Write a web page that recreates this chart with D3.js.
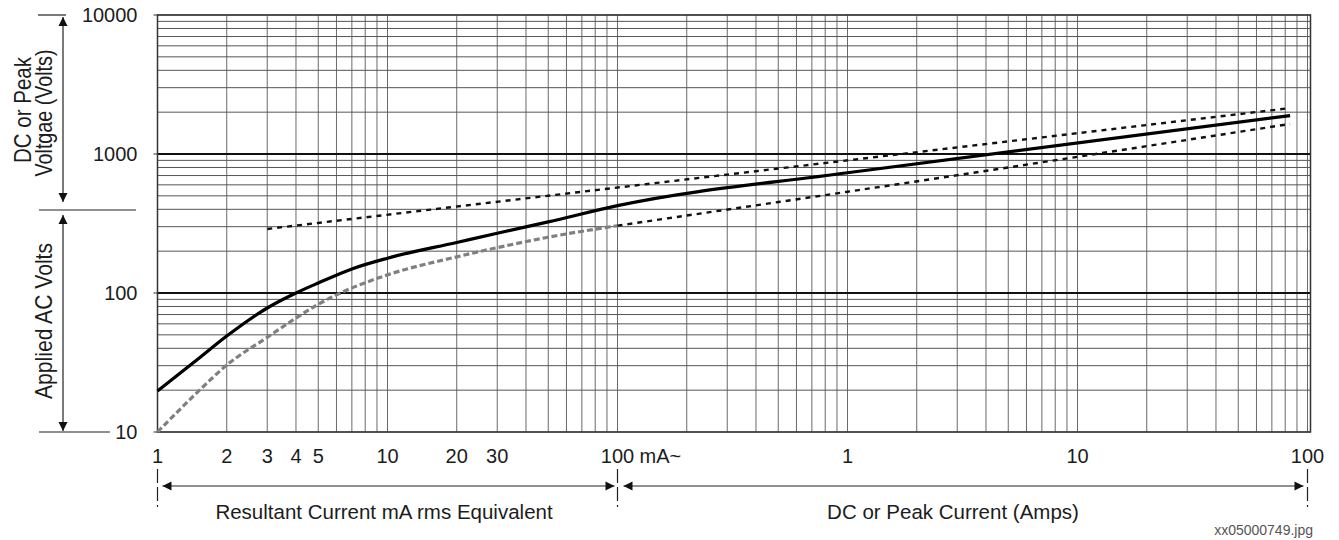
<!DOCTYPE html>
<html>
<head>
<meta charset="utf-8">
<script src="https://d3js.org/d3.v7.min.js"></script>
<style>
    body { margin: 0; background: #fff; }
    text { font-family: "Liberation Sans", Arial, sans-serif; fill: #1c1c1c; }
</style>
</head>
<body>
<script>
// current is kept in mA throughout, voltage in volts
var solidCurrent = [1, 1.5, 2, 3, 4, 5, 7, 10, 20, 30, 50, 100, 1000, 84000];
var solidVolts   = [19.7, 33.5, 49, 78, 100, 118, 149, 178, 231, 269, 325, 425, 733, 1890];

// lower limit, AC part (grey dashes) then DC part (black dashes)
var lowAcCurrent = [1, 1.5, 2, 3, 4, 5, 6, 10, 20, 30, 50, 100];
var lowAcVolts   = [10, 19.5, 30.3, 48, 66, 83, 97, 135, 182, 212, 252, 305];
var lowDcCurrent = [100, 1000, 84000];
var lowDcVolts   = [305, 535, 1645];

// upper limit
var highCurrent = [3, 84000];
var highVolts   = [289, 2140];

var xTicks      = [1, 2, 3, 4, 5, 10, 20, 30, 100, 1000, 10000, 100000];
var xTickLabels = ["1", "2", "3", "4", "5", "10", "20", "30", "100", "1", "10", "100"];
var yTicks      = [10, 100, 1000, 10000];
var yTickLabels = ["10", "100", "1000", "10000"];

var width = 1339, height = 540;
var plotLeft = 157.5, plotRight = 1307.5, plotTop = 15, plotBottom = 432;

var svg = d3.select("body").append("svg")
    .attr("width", width)
    .attr("height", height);

var x = d3.scaleLog().domain([1, 100000]).range([plotLeft, plotRight]);
var y = d3.scaleLog().domain([10, 10000]).range([plotBottom, plotTop]);

//// grid
var xGrid = [], yGrid = [];
[1, 10, 100, 1000, 10000].forEach(function(d) {
    for (var k = 1; k <= 9; k++) xGrid.push(k * d);
});
xGrid.push(100000);
[10, 100, 1000].forEach(function(d) {
    for (var k = 1; k <= 9; k++) yGrid.push(k * d);
});
yGrid.push(10000);

svg.append("g").selectAll("line").data(xGrid).enter().append("line")
    .attr("x1", function(d) { return x(d); })
    .attr("x2", function(d) { return x(d); })
    .attr("y1", plotTop).attr("y2", plotBottom)
    .style("stroke", "#6a6a6a")
    .style("stroke-width", 1);

svg.append("g").selectAll("line").data(yGrid).enter().append("line")
    .attr("x1", plotLeft).attr("x2", plotRight + 3)
    .attr("y1", function(d) { return y(d); })
    .attr("y2", function(d) { return y(d); })
    .style("stroke", function(d) { return (d === 100 || d === 1000) ? "#111" : "#555"; })
    .style("stroke-width", function(d) { return (d === 100 || d === 1000) ? 2 : 1; });

// frame
svg.append("rect")
    .attr("x", plotLeft).attr("y", plotTop)
    .attr("width", plotRight + 3 - plotLeft).attr("height", plotBottom - plotTop)
    .style("fill", "none")
    .style("stroke", "#333")
    .style("stroke-width", 1.5);

// small ticks sticking out of the frame
svg.append("g").selectAll("line").data(yTicks).enter().append("line")
    .attr("x1", plotLeft - 4).attr("x2", plotLeft)
    .attr("y1", function(d) { return y(d); })
    .attr("y2", function(d) { return y(d); })
    .style("stroke", "#333");

//// curves
var line = d3.line()
    .x(function(d) { return x(d[0]); })
    .y(function(d) { return y(d[1]); })
    .curve(d3.curveMonotoneX);

svg.append("path")
    .datum(d3.zip(lowAcCurrent, lowAcVolts))
    .attr("d", line)
    .style("fill", "none")
    .style("stroke", "#808080")
    .style("stroke-width", 3.2)
    .style("stroke-dasharray", "6,3");

svg.append("path")
    .datum(d3.zip(lowDcCurrent, lowDcVolts))
    .attr("d", line)
    .style("fill", "none")
    .style("stroke", "#111")
    .style("stroke-width", 2.4)
    .style("stroke-dasharray", "5,5");

svg.append("path")
    .datum(d3.zip(highCurrent, highVolts))
    .attr("d", line)
    .style("fill", "none")
    .style("stroke", "#111")
    .style("stroke-width", 2.4)
    .style("stroke-dasharray", "5,5");

svg.append("path")
    .datum(d3.zip(solidCurrent, solidVolts))
    .attr("d", line)
    .style("fill", "none")
    .style("stroke", "#000")
    .style("stroke-width", 3.2);

//// tick labels
svg.append("g").selectAll("text").data(yTicks).enter().append("text")
    .attr("x", plotLeft - 20)
    .attr("y", function(d) { return y(d); })
    .attr("dy", "0.36em")
    .style("text-anchor", "end")
    .style("font-size", "20px")
    .text(function(d, i) { return yTickLabels[i]; });

svg.append("g").selectAll("text").data(xTicks).enter().append("text")
    .attr("x", function(d) { return x(d); })
    .attr("y", 463)
    .style("text-anchor", "middle")
    .style("font-size", "20px")
    .text(function(d, i) { return xTickLabels[i]; });

svg.append("text")
    .attr("x", x(100) + 22)
    .attr("y", 463)
    .style("font-size", "20px")
    .text("mA~");

//// arrow helpers
function arrowHead(g, tx, ty, dir) {
    // dir: "up", "down", "left", "right"; (tx, ty) is the tip
    var l = 9, w = 4.5, p;
    if (dir === "up")    p = [[tx, ty], [tx - w, ty + l], [tx + w, ty + l]];
    if (dir === "down")  p = [[tx, ty], [tx - w, ty - l], [tx + w, ty - l]];
    if (dir === "left")  p = [[tx, ty], [tx + l, ty - w], [tx + l, ty + w]];
    if (dir === "right") p = [[tx, ty], [tx - l, ty - w], [tx - l, ty + w]];
    g.append("path")
        .attr("d", "M" + p.join("L") + "Z")
        .style("fill", "#111");
}

function seg(g, x1, y1, x2, y2, dash) {
    g.append("line")
        .attr("x1", x1).attr("y1", y1).attr("x2", x2).attr("y2", y2)
        .style("stroke", "#222")
        .style("stroke-width", 1.2)
        .style("stroke-dasharray", dash || null);
}

//// left side: voltage ranges
var ann = svg.append("g");
var splitY = 210, arrowX = 63;
seg(ann, 38, plotTop, 66, plotTop);
seg(ann, 39, splitY, 136, splitY);
seg(ann, 39, plotBottom, 110, plotBottom);
seg(ann, arrowX, plotTop + 2, arrowX, splitY - 8);
arrowHead(ann, arrowX, plotTop + 2, "up");
arrowHead(ann, arrowX, splitY - 8, "down");
seg(ann, arrowX, splitY + 5, arrowX, plotBottom - 1);
arrowHead(ann, arrowX, splitY + 5, "up");
arrowHead(ann, arrowX, plotBottom - 1, "down");

// the scanned lettering is a bit narrow, so squeeze it to its measured length
function vText(cx, cy, str, len) {
    svg.append("text")
        .attr("transform", "translate(" + cx + "," + cy + ") rotate(-90)")
        .attr("x", -len / 2)
        .attr("textLength", len)
        .attr("lengthAdjust", "spacingAndGlyphs")
        .style("font-size", "24px")
        .text(str);
}
vText(31, 110, "DC or Peak", 106);
vText(52, 113, "Voltgae (Volts)", 127);
vText(52, 321, "Applied AC Volts", 156);

//// bottom: current ranges
var arrowY = 486;
var bot = svg.append("g");
[x(1), x(100), x(100000)].forEach(function(px) {
    seg(bot, px, 469, px, 507, "14,4");
});
seg(bot, x(1) + 5, arrowY, x(100) - 3, arrowY);
arrowHead(bot, x(1) + 5, arrowY, "left");
arrowHead(bot, x(100) - 3, arrowY, "right");
seg(bot, x(100) + 6, arrowY, x(100000) - 4, arrowY);
arrowHead(bot, x(100) + 6, arrowY, "left");
arrowHead(bot, x(100000) - 4, arrowY, "right");

svg.append("text")
    .attr("x", 384).attr("y", 519)
    .style("text-anchor", "middle")
    .style("font-size", "20.5px")
    .text("Resultant Current mA rms Equivalent");

svg.append("text")
    .attr("x", 953).attr("y", 519)
    .style("text-anchor", "middle")
    .style("font-size", "20.5px")
    .text("DC or Peak Current (Amps)");

svg.append("text")
    .attr("x", 1313).attr("y", 535)
    .style("text-anchor", "end")
    .style("font-size", "14px")
    .style("fill", "#555")
    .text("xx05000749.jpg");
</script>
</body>
</html>
